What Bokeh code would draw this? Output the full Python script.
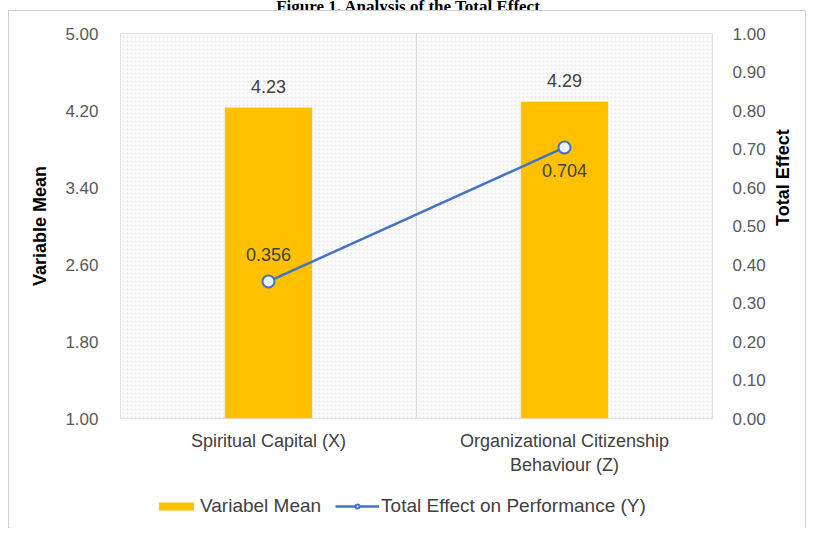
import math
from bokeh.plotting import figure
from bokeh.layouts import column
from bokeh.models import (FactorRange, Range1d, LinearAxis, Span, Legend, Div,
                          LegendItem, FixedTicker, NumeralTickFormatter, BoxAnnotation)
from bokeh.core.properties import value
from bokeh.embed import file_html
from bokeh.resources import INLINE

# ---- data ----
categories = ["Spiritual Capital (X)", "Organizational Citizenship\nBehaviour (Z)"]
means = [4.23, 4.29]
mean_labels = ["4.23", "4.29"]
effects = [0.356, 0.704]
effect_labels = ["0.356", "0.704"]
left_ticks = [1.00, 1.80, 2.60, 3.40, 4.20, 5.00]
right_ticks = [0.0, 0.1, 0.2, 0.3, 0.4, 0.5, 0.6, 0.7, 0.8, 0.9, 1.0]
series_names = ["Variabel Mean", "Total Effect on Performance (Y)"]
title_text = "Figure 1. Analysis of the Total Effect"

FONT = "Liberation Sans"
BAR = "#FFC000"
LINE = "#4472C4"
MARK_FILL = "#eef5fc"

p = figure(x_range=FactorRange(*categories), y_range=Range1d(left_ticks[0], left_ticks[-1]),
           width=798, height=466, output_backend="svg", toolbar_location=None,
           min_border_left=111, min_border_right=89, min_border_top=22, min_border_bottom=59)
p.extra_y_ranges = {"eff": Range1d(right_ticks[0], right_ticks[-1])}

p.background_fill_color = "white"
p.border_fill_color = "white"
p.outline_line_color = "#d9d9d9"

# textured background
p.add_layout(BoxAnnotation(fill_color="#fcfcfc", fill_alpha=1, hatch_pattern="dot",
                           hatch_color="#e6e6e6", hatch_scale=4, hatch_weight=1,
                           line_color=None, level="underlay"))

# grid
p.xgrid.visible = False
p.ygrid.ticker = FixedTicker(ticks=left_ticks)
p.ygrid.grid_line_color = "#d9d9d9"
p.add_layout(Span(location=1.0, dimension="height", line_color="#d9d9d9", line_width=1,
                  level="underlay"))

# bars
p.vbar(x=categories, top=means, bottom=left_ticks[0], width=0.295,
       fill_color=BAR, line_color=None)
p.text(x=categories, y=means, text=mean_labels, y_offset=-21, text_align="center",
       text_baseline="middle", text_font=value(FONT), text_font_size="18px",
       text_color="#404040")

# line
p.line(x=categories, y=effects, y_range_name="eff", line_color=LINE, line_width=2.5)
p.scatter(x=categories, y=effects, y_range_name="eff", size=12, fill_color=MARK_FILL,
          line_color=LINE, line_width=2)
p.text(x=[categories[0]], y=[effects[0]], text=[effect_labels[0]], y_range_name="eff",
       y_offset=-27, text_align="center", text_baseline="middle", text_font=value(FONT),
       text_font_size="18px", text_color="#404040")
p.text(x=[categories[1]], y=[effects[1]], text=[effect_labels[1]], y_range_name="eff",
       y_offset=23, text_align="center", text_baseline="middle", text_font=value(FONT),
       text_font_size="18px", text_color="#404040")

# axes
def style_axis(ax):
    ax.axis_line_color = None
    ax.major_tick_line_color = None
    ax.minor_tick_line_color = None
    ax.major_label_text_font = FONT
    ax.major_label_text_color = "#595959"
    ax.axis_label_text_font = FONT
    ax.axis_label_text_font_style = "bold"
    ax.axis_label_text_color = "#000000"
    ax.axis_label_text_font_size = "18px"

xa = p.xaxis[0]
style_axis(xa)
xa.major_label_text_font_size = "18px"
xa.major_label_text_color = "#404040"
xa.major_label_standoff = 6

ya = p.yaxis[0]
style_axis(ya)
ya.ticker = FixedTicker(ticks=left_ticks)
ya.formatter = NumeralTickFormatter(format="0.00")
ya.major_label_text_font_size = "17px"
ya.major_label_standoff = 16
ya.axis_label = "Variable Mean"
ya.axis_label_standoff = 12

ra = LinearAxis(y_range_name="eff", ticker=FixedTicker(ticks=right_ticks),
                formatter=NumeralTickFormatter(format="0.00"), axis_label="Total Effect")
style_axis(ra)
ra.major_label_text_font_size = "17px"
ra.major_label_standoff = 14
ra.axis_label_standoff = 14
try:
    ra.axis_label_orientation = math.pi / 2
except Exception:
    pass
p.add_layout(ra, "right")

# legend strip (separate small figure so the legend sits below the axis);
# proxy renderers sit outside its visible range and only supply legend swatches
lg = figure(width=798, height=52, output_backend="svg", toolbar_location=None,
            x_range=Range1d(0, 1), y_range=Range1d(0, 1),
            min_border_left=0, min_border_right=0, min_border_top=0, min_border_bottom=0)
lg.axis.visible = False
lg.grid.visible = False
lg.outline_line_color = None
lg.background_fill_color = "white"
lg.border_fill_color = "white"
r_bar = lg.vbar(x=[-5], top=[-5], bottom=[-6], width=0.3, fill_color=BAR, line_color=None)
r_line = lg.line(x=[-6, -5], y=[-5, -5], line_color=LINE, line_width=2.5)
r_mark = lg.scatter(x=[-5], y=[-5], size=10, fill_color=MARK_FILL, line_color=LINE,
                    line_width=2)
legend = Legend(items=[LegendItem(label=series_names[0], renderers=[r_bar]),
                       LegendItem(label=series_names[1], renderers=[r_line, r_mark])],
                location=(34, 12), orientation="horizontal", border_line_color=None,
                background_fill_alpha=0, label_text_font=FONT, label_text_font_size="19px",
                label_text_color="#404040", glyph_width=44, glyph_height=10,
                label_standoff=2, spacing=14, padding=4, margin=0)
lg.add_layout(legend)

# document caption, mostly cut off at the top as in the source image
cap = Div(text=f'<div style="margin-top:-12px;text-align:center;font:bold 17px \'Liberation Serif\';'
               f'color:#000;white-space:nowrap;width:816px">{title_text}</div>',
          width=816, height=10, margin=(0, 0, 0, 0), styles={"overflow": "hidden"})

chart = column(p, lg, width=798, height=518, spacing=0, margin=(0, 0, 0, 8),
               styles={"border": "1px solid #d0d0d0"})
page = column(cap, chart, width=816, height=534, spacing=0, margin=(0, 0, 0, 0))

open("out.html", "w").write(file_html(page, INLINE))
